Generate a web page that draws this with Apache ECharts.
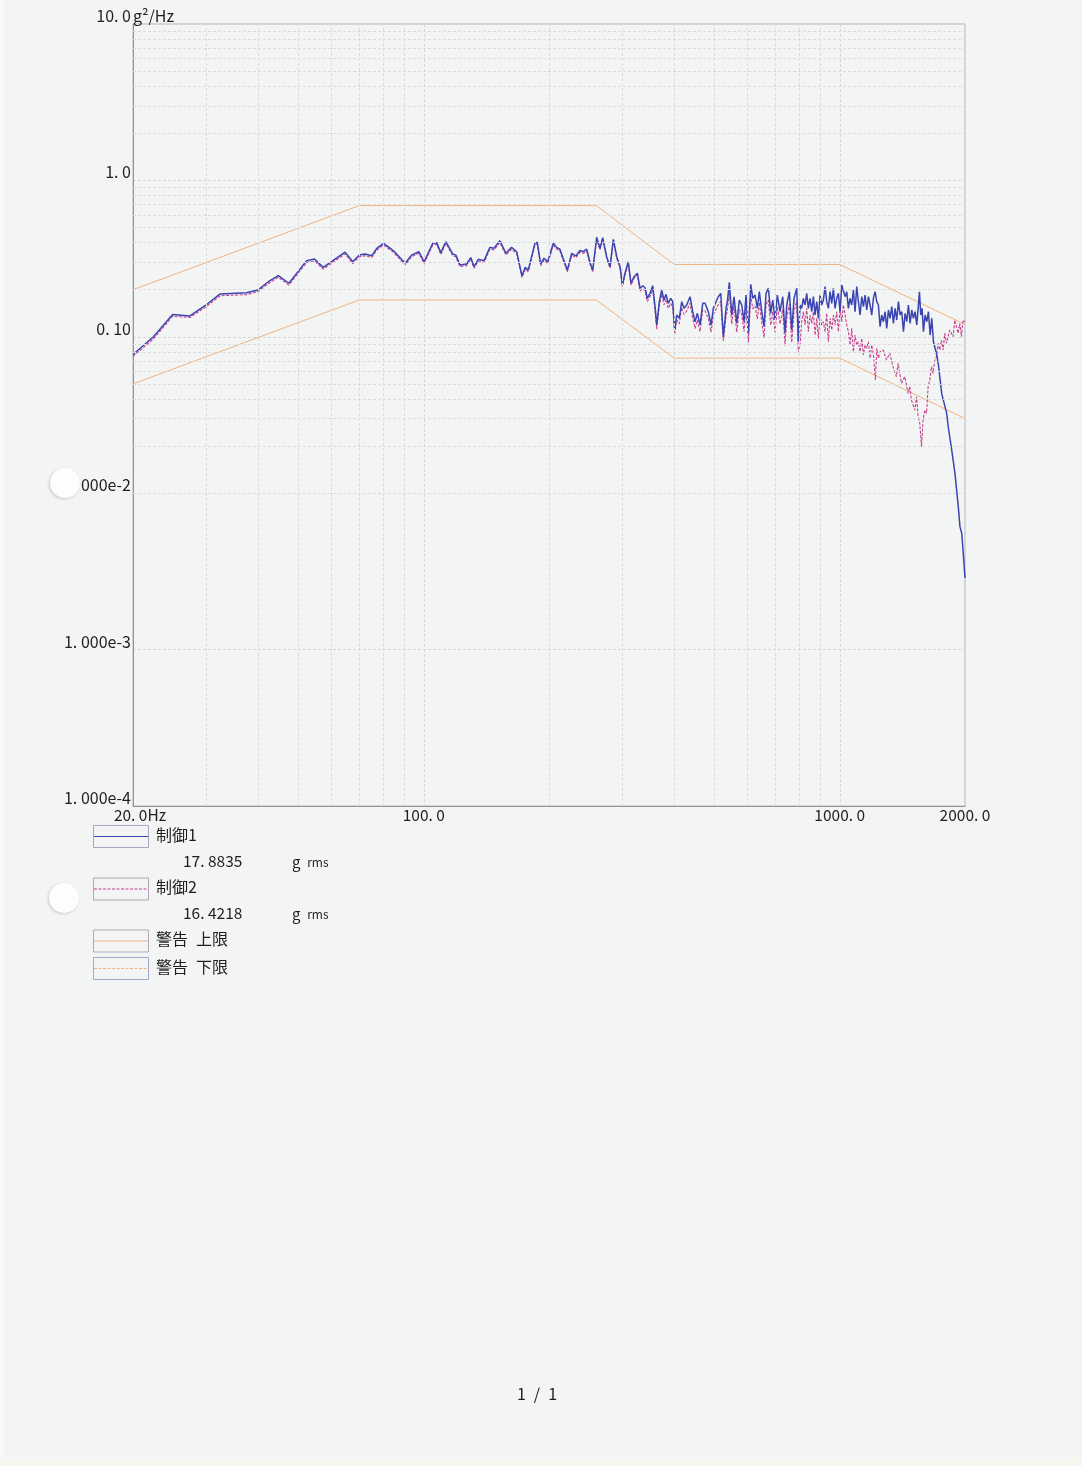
<!DOCTYPE html>
<html>
<head>
<meta charset="utf-8">
<title>制御 PSD</title>
<script src="https://cdn.jsdelivr.net/npm/echarts@6/dist/echarts.min.js"></script>
<style>
  html, body { margin: 0; padding: 0; background: #f3f4f4; }
  #chart { width: 1082px; height: 1466px; }
</style>
</head>
<body>
<div id="chart"></div>
<script>
// ---- Frequency (Hz) / PSD (g^2/Hz) data ----

// Band shared by both control channels (20 Hz – 795 Hz)
const bandFreq = [
  20, 22.4, 24.9, 27.4, 29.8, 32.4, 37.5, 39.9, 42.3, 44.7,
  47.4, 52.3, 54.6, 57.3, 64.7, 67.5, 70.0, 72.2, 75.0, 77.1,
  80.0, 84.5, 90.2, 93.5, 97.3, 100.2,
  105.1, 107.4, 109.9, 113.0, 117.4, 119.4, 122.2, 126.8, 129.7, 132.1,
  135.2, 139.6, 144.2, 147.5, 152.4, 157.6, 162.6, 167.2, 172.2, 175.4,
  178.3, 185.0, 187.4, 191.0, 194.6, 198.6, 204.8, 208.6, 212.4, 221.4,
  226.8, 232.2, 237.4, 241.8, 246.4, 251.0, 254.8, 260.4, 265.2, 269.2,
  275.2, 280.4, 285.6, 291.0, 296.4, 300.2, 304.6, 310.2, 314.8, 320.2,
  326.2,
  331.0, 336.0, 340.3, 344.6, 349.8, 355.1, 359.7, 363.1, 368.3, 373.2,
  378.0, 382.2, 387.1, 392.3, 396.7, 401.1, 405.6, 411.4, 416.9, 422.3,
  428.6, 436.6, 443.1, 448.8, 454.6, 461.4, 468.4, 474.4, 483.1, 490.4,
  496.7, 504.1, 510.6, 517.4, 524.9, 532.9, 536.7, 542.7, 549.9, 557.0,
  565.4, 573.6, 581.2, 588.7, 595.2, 602.9, 610.9, 617.7, 625.6, 633.7,
  640.7, 649.3, 657.6, 664.9, 673.5, 682.5, 690.1, 698.9, 707.8, 718.5,
  729.3, 738.7, 745.7, 756.5, 766.6, 776.4, 788.1, 795.1
];

const ctrl1Band = [
  0.077, 0.100, 0.139, 0.136, 0.158, 0.188, 0.191, 0.199, 0.225, 0.246,
  0.220, 0.307, 0.314, 0.278, 0.348, 0.302, 0.333, 0.338, 0.330, 0.368,
  0.396, 0.356, 0.295, 0.333, 0.350, 0.302,
  0.396, 0.400, 0.345, 0.406, 0.338, 0.333, 0.288, 0.292, 0.321, 0.281,
  0.313, 0.307, 0.373, 0.368, 0.411, 0.342, 0.373, 0.350, 0.245, 0.278,
  0.267, 0.396, 0.402, 0.292, 0.318, 0.302, 0.396, 0.373, 0.363, 0.267,
  0.342, 0.329, 0.356, 0.350, 0.363, 0.298, 0.267, 0.433, 0.368, 0.430,
  0.325, 0.281, 0.420, 0.325, 0.281, 0.214, 0.255, 0.302, 0.220, 0.242,
  0.255,
  0.2042, 0.2122, 0.2060, 0.1762, 0.1897, 0.2122, 0.1558, 0.1190, 0.1676, 0.1990,
  0.1718, 0.1869, 0.1637, 0.1762, 0.1676, 0.1105, 0.1378, 0.1313, 0.1676, 0.1521,
  0.1597, 0.1804, 0.1447, 0.1249, 0.1413, 0.1190, 0.1637, 0.1637, 0.1447, 0.1190,
  0.1521, 0.1676, 0.1804, 0.1897, 0.1001, 0.1521, 0.1676, 0.2231, 0.1378, 0.1804,
  0.1220, 0.1718, 0.1597, 0.1249, 0.1850, 0.1053, 0.2166, 0.1762, 0.1850, 0.1521,
  0.1943, 0.1447, 0.1160, 0.1897, 0.2042, 0.1413, 0.1718, 0.1280, 0.1850, 0.1447,
  0.1804, 0.1053, 0.1597, 0.1943, 0.1105, 0.1762, 0.2042, 0.0930
];

const ctrl2Band = [
  0.075, 0.097, 0.135, 0.133, 0.154, 0.183, 0.186, 0.194, 0.219, 0.240,
  0.214, 0.299, 0.306, 0.271, 0.339, 0.294, 0.325, 0.330, 0.322, 0.359,
  0.386, 0.347, 0.288, 0.325, 0.341, 0.294,
  0.386, 0.390, 0.336, 0.396, 0.330, 0.325, 0.281, 0.285, 0.313, 0.274,
  0.305, 0.299, 0.364, 0.359, 0.401, 0.333, 0.364, 0.341, 0.239, 0.271,
  0.260, 0.386, 0.392, 0.285, 0.310, 0.294, 0.386, 0.364, 0.354, 0.260,
  0.333, 0.321, 0.347, 0.341, 0.354, 0.291, 0.260, 0.422, 0.359, 0.419,
  0.317, 0.274, 0.410, 0.317, 0.274, 0.209, 0.249, 0.294, 0.214, 0.236,
  0.249,
  0.196, 0.204, 0.197, 0.168, 0.181, 0.202, 0.146, 0.112, 0.158, 0.187,
  0.160, 0.174, 0.152, 0.164, 0.155, 0.104, 0.128, 0.121, 0.154, 0.139,
  0.146, 0.164, 0.131, 0.113, 0.128, 0.108, 0.149, 0.147, 0.130, 0.107,
  0.137, 0.150, 0.161, 0.168, 0.094, 0.135, 0.148, 0.192, 0.121, 0.158,
  0.107, 0.150, 0.139, 0.108, 0.160, 0.092, 0.185, 0.151, 0.158, 0.130,
  0.166, 0.123, 0.099, 0.161, 0.172, 0.119, 0.145, 0.107, 0.155, 0.121,
  0.150, 0.088, 0.133, 0.161, 0.092, 0.146, 0.168, 0.079
];

// 制御1 above 800 Hz
const ctrl1TailFreq = [
  802.6,
  810.0, 817.5, 825.1, 832.8, 840.5, 848.3, 856.2, 864.1, 872.1, 880.2,
  888.4, 896.6, 904.9, 913.3, 921.8, 930.3, 938.9, 947.6, 956.4, 965.3,
  974.2, 983.3, 992.4, 1001.6, 1010.9, 1020.3, 1029.7, 1039.2, 1048.9, 1058.6,
  1068.4, 1078.3, 1088.3, 1098.4, 1108.6, 1118.9, 1129.3, 1139.8, 1150.4, 1161.0,
  1171.8, 1182.6, 1193.6, 1204.7, 1215.8, 1227.1, 1238.5, 1250.0, 1261.6, 1273.3,
  1285.1, 1297.0, 1309.0, 1321.1, 1333.4, 1345.8, 1358.2, 1370.8, 1383.5, 1396.4,
  1409.3, 1422.4, 1435.6, 1448.9, 1462.3, 1475.9, 1489.6, 1503.4, 1517.3, 1531.4,
  1545.6, 1554.2, 1565.6, 1577.3, 1589.0, 1603.7, 1618.6, 1633.6, 1648.8, 1664.1,
  1679.5, 1695.1, 1710.8, 1726.7,
  1758, 1774, 1807, 1823, 1858, 1892, 1927, 1945, 1964, 1981, 2000
];
const ctrl1Tail = [
  0.1597,
  0.1520, 0.1762, 0.1597, 0.1896, 0.1520, 0.1762, 0.1447, 0.1806, 0.1378, 0.1677,
  0.1312, 0.1850, 0.1597, 0.1719, 0.2092, 0.1677, 0.1520, 0.1943, 0.1637, 0.2041,
  0.1520, 0.1762, 0.1896, 0.1447, 0.2143, 0.2197, 0.1806, 0.1943, 0.1520, 0.1762,
  0.1597, 0.1992, 0.1447, 0.2092, 0.1677, 0.1378, 0.1806, 0.1558, 0.1850, 0.1484,
  0.1806, 0.1597, 0.1378, 0.1762, 0.1943, 0.1677, 0.1597, 0.1160, 0.1378, 0.1249,
  0.1447, 0.1132, 0.1484, 0.1312, 0.1558, 0.1219, 0.1520, 0.1280, 0.1677, 0.1378,
  0.1447, 0.1078, 0.1412, 0.1249, 0.1597, 0.1219, 0.1484, 0.1312, 0.1447, 0.1189,
  0.1597, 0.1943, 0.1378, 0.1520, 0.1078, 0.1378, 0.1249, 0.1447, 0.1026, 0.1312,
  0.0930, 0.0844, 0.0765, 0.0660,
  0.0435, 0.0394, 0.0324, 0.0266, 0.0189, 0.0134, 0.0082, 0.00611, 0.00555, 0.00413, 0.00287
];

// 制御2 above 800 Hz
const ctrl2TailFreq = [
  802.6, 810.0, 817.5, 825.1, 832.8, 840.5, 848.3, 856.2, 864.1, 872.1,
  880.2, 888.4, 896.6, 904.9, 913.3, 921.8, 930.3, 938.9, 947.6, 956.4,
  965.3, 974.2, 983.3, 992.4, 1001.6, 1010.9, 1020.3, 1029.7, 1039.2, 1048.9,
  1058.6, 1068.4, 1078.3, 1088.3, 1098.4, 1108.6, 1118.9, 1129.3, 1139.8, 1150.4,
  1161.0, 1171.8, 1182.6, 1193.6, 1204.7, 1218.0, 1227.1, 1238.5, 1250.0,
  1271, 1295, 1319, 1343, 1368, 1381, 1407, 1433, 1460, 1473,
  1487, 1515, 1529, 1543, 1557, 1572, 1586, 1601, 1616, 1631,
  1646, 1661, 1676, 1692, 1708, 1723, 1739, 1756, 1772, 1788,
  1805, 1838, 1873, 1890, 1925, 1943, 1961, 1979, 2000
];
const ctrl2Tail = [
  0.0886, 0.1249, 0.1447, 0.1189, 0.1520, 0.1078, 0.1378, 0.1219, 0.1447, 0.1026,
  0.1312, 0.0977, 0.1378, 0.1189, 0.1249, 0.1078, 0.1412, 0.0930, 0.1312, 0.1105,
  0.1378, 0.1189, 0.1447, 0.1078, 0.1520, 0.1249, 0.1597, 0.1378, 0.1189, 0.1078,
  0.0886, 0.1132, 0.0803, 0.1026, 0.0886, 0.0930, 0.0803, 0.0977, 0.0765, 0.0886,
  0.0844, 0.0930, 0.0728, 0.0886, 0.0765, 0.0530, 0.0844, 0.0728, 0.0803,
  0.0823, 0.0711, 0.0784, 0.0644, 0.0556, 0.0677, 0.0504, 0.0556, 0.0435, 0.0480,
  0.0394, 0.0340, 0.0414, 0.0309, 0.0280, 0.0198, 0.0294, 0.0340, 0.0324, 0.0480,
  0.0529, 0.0644, 0.0584, 0.0711, 0.0746, 0.0908, 0.0823, 0.0954, 0.0823, 0.1053,
  0.0908, 0.1106, 0.1002, 0.1280, 0.1053, 0.1219, 0.1002, 0.1280, 0.1250
];

// Alarm profile (警告 上限 / 下限)
const limitFreq = [20, 70, 260, 400, 1000, 2000];
const upperLimit = [0.2, 0.69, 0.69, 0.29, 0.29, 0.12];
const lowerLimit = [0.05, 0.172, 0.172, 0.073, 0.073, 0.03];

// Overall rms values shown in the legend
const rmsValues = ['17. 8835', '16. 4218'];
const legendNames = ['制御1', '制御2', '警告\u2002上限', '警告\u2002下限'];

// Axis tick labels and unit
const xTickValues = [20, 100, 1000, 2000];
const xTickLabels = ['{h|20. 0Hz}', '100. 0', '1000. 0', '2000. 0'];
const yTickExps = [1, 0, -1, -2, -3, -4];
const yTickLabels = ['10. 0', '1. 0', '0. 10', '1. 000e-2', '1. 000e-3', '1. 000e-4'];
const yUnit = 'g²/Hz';

// Minor grid positions (2..9 within each decade)
const xMinorGrid = [30, 40, 50, 60, 70, 80, 90, 200, 300, 400, 500, 600, 700, 800, 900];
const yMinorGrid = [];
for (let e = -4; e <= 0; e++) {
  for (let m = 2; m <= 9; m++) yMinorGrid.push(m * Math.pow(10, e));
}

// ---- chart ----
const FONT = '"Noto Sans CJK JP", "Noto Sans", sans-serif';
const TEXT_COLOR = '#1f1f1f';
const C_BLUE = '#3a44b2';
const C_MAGENTA = '#c4418e';
const C_ORANGE = '#efb47e';
const C_GRID = '#dcdcdf';

function zip(f, v) { return f.map((x, i) => [x, v[i]]); }
const ctrl1Data = zip(bandFreq, ctrl1Band).concat(zip(ctrl1TailFreq, ctrl1Tail));
const ctrl2Data = zip(bandFreq, ctrl2Band).concat(zip(ctrl2TailFreq, ctrl2Tail));

const chart = echarts.init(document.getElementById('chart'), null, { renderer: 'canvas' });

function textEl(x, y, text, size, align) {
  return { type: 'text', x: x, y: y, z: 51, silent: true,
    style: { text: text, font: size + 'px ' + FONT, fill: TEXT_COLOR,
             align: align || 'left', verticalAlign: 'middle',
             textAlign: align || 'left', textVerticalAlign: 'middle' } };
}
function legendRow(y, name, color, dash, borderColor) {
  return [
    { type: 'rect', shape: { x: 93.5, y: y - 11, width: 55, height: 22 },
      style: { fill: 'none', stroke: borderColor, lineWidth: 1 }, z: 50, silent: true },
    { type: 'line', shape: { x1: 94, y1: y, x2: 148, y2: y },
      style: { stroke: color, lineWidth: 1, lineDash: dash }, z: 51, silent: true },
    textEl(156, y - 2, name, 16)
  ];
}
function rmsRow(y, value) {
  return [
    textEl(183, y, value, 15.5),
    { type: 'text', x: 292, y: y + 1, z: 51, silent: true,
      style: { text: '{g|g}  {r|rms}', fill: TEXT_COLOR,
               align: 'left', verticalAlign: 'middle', textAlign: 'left', textVerticalAlign: 'middle',
               rich: { g: { font: '15px ' + FONT, fill: TEXT_COLOR },
                       r: { font: '12px ' + FONT, fill: TEXT_COLOR } } } }
  ];
}

const graphics = [].concat(
  [textEl(133, 16, yUnit, 16)],
  legendRow(836.5, legendNames[0], C_BLUE, null, '#aaa5bd'),
  rmsRow(861.5, rmsValues[0]),
  legendRow(889, legendNames[1], C_MAGENTA, [3, 1.5], '#b0a6b8'),
  rmsRow(913.5, rmsValues[1]),
  legendRow(941, legendNames[2], C_ORANGE, null, '#b3a9b8'),
  legendRow(968.5, legendNames[3], C_ORANGE, [3, 1.5], '#a3a8c6'),
  [
    textEl(537, 1394, '1\u2002/\u20021', 16, 'center'),
    // paper edges and binder holes
    { type: 'rect', shape: { x: 0, y: 0, width: 4, height: 1466 },
      style: { fill: '#f9f9f7' }, z: 0, silent: true },
    { type: 'rect', shape: { x: 0, y: 1458, width: 1082, height: 8 },
      style: { fill: '#f7f7ef' }, z: 0, silent: true },
    { type: 'circle', shape: { cx: 65, cy: 483, r: 15 },
      style: { fill: '#fdfdfd', shadowBlur: 3, shadowColor: 'rgba(0,0,0,0.18)', shadowOffsetX: -1, shadowOffsetY: 1 },
      z: 100, silent: true },
    { type: 'circle', shape: { cx: 64, cy: 898, r: 15 },
      style: { fill: '#fdfdfd', shadowBlur: 3, shadowColor: 'rgba(0,0,0,0.18)', shadowOffsetX: -1, shadowOffsetY: 1 },
      z: 100, silent: true }
  ]
);

const option = {
  backgroundColor: '#f3f4f4',
  animation: false,
  textStyle: { fontFamily: FONT },
  grid: {
    left: 133, top: 24, width: 832, height: 782,
    show: true, borderColor: '#b7b3c4', borderWidth: 1, backgroundColor: 'transparent',
    containLabel: false, outerBoundsMode: 'none'
  },
  xAxis: {
    type: 'log', logBase: 10, min: 20, max: 2000,
    axisLine: { show: true, onZero: false, lineStyle: { color: '#949494', width: 1 } },
    axisTick: { show: false },
    axisLabel: {
      show: true, margin: 1, color: TEXT_COLOR, fontSize: 15.5, fontFamily: FONT,
      showMinLabel: true, showMaxLabel: true, hideOverlap: false,
      formatter: function (v) {
        for (let i = 0; i < xTickValues.length; i++) {
          if (Math.abs(Math.log10(v / xTickValues[i])) < 0.01) return xTickLabels[i];
        }
        return '';
      },
      rich: { h: { padding: [0, 0, 0, 14], fontSize: 15.5, fontFamily: FONT, color: TEXT_COLOR } }
    },
    splitLine: { show: true, lineStyle: { color: '#d6d6da', width: 1, type: [3, 2] } }
  },
  yAxis: {
    type: 'log', logBase: 10, min: 1e-4, max: 10,
    axisLine: { show: true, onZero: false, lineStyle: { color: '#949494', width: 1 } },
    axisTick: { show: false },
    axisLabel: {
      show: true, margin: 2, color: TEXT_COLOR, fontSize: 16, fontFamily: FONT,
      verticalAlign: 'bottom', showMinLabel: true, showMaxLabel: true, hideOverlap: false,
      formatter: function (v) {
        const e = Math.round(Math.log10(v));
        const i = yTickExps.indexOf(e);
        return i >= 0 ? yTickLabels[i] : '';
      }
    },
    splitLine: { show: true, lineStyle: { color: '#d6d6da', width: 1, type: [3, 2] } }
  },
  series: [
    {
      name: 'minor-grid', type: 'line', data: [], z: 1, silent: true,
      markLine: {
        silent: true, symbol: ['none', 'none'], label: { show: false }, animation: false,
        lineStyle: { color: C_GRID, width: 1, type: [3, 2] },
        emphasis: { disabled: true },
        data: xMinorGrid.map(v => ({ xAxis: v })).concat(yMinorGrid.map(v => ({ yAxis: v })))
      }
    },
    {
      name: legendNames[2], type: 'line', data: zip(limitFreq, upperLimit), z: 2,
      symbol: 'none', showSymbol: false, silent: true,
      lineStyle: { color: C_ORANGE, width: 1 }
    },
    {
      name: legendNames[3], type: 'line', data: zip(limitFreq, lowerLimit), z: 2,
      symbol: 'none', showSymbol: false, silent: true,
      lineStyle: { color: C_ORANGE, width: 1 }
    },
    {
      name: legendNames[1], type: 'line', data: ctrl2Data, z: 3,
      symbol: 'none', showSymbol: false, silent: true, sampling: null,
      lineStyle: { color: C_MAGENTA, width: 1.1, type: [3, 1.5] }
    },
    {
      name: legendNames[0], type: 'line', data: ctrl1Data, z: 4,
      symbol: 'none', showSymbol: false, silent: true, sampling: null,
      lineStyle: { color: C_BLUE, width: 1.5 }
    }
  ],
  graphic: graphics
};

chart.setOption(option);
</script>
</body>
</html>
